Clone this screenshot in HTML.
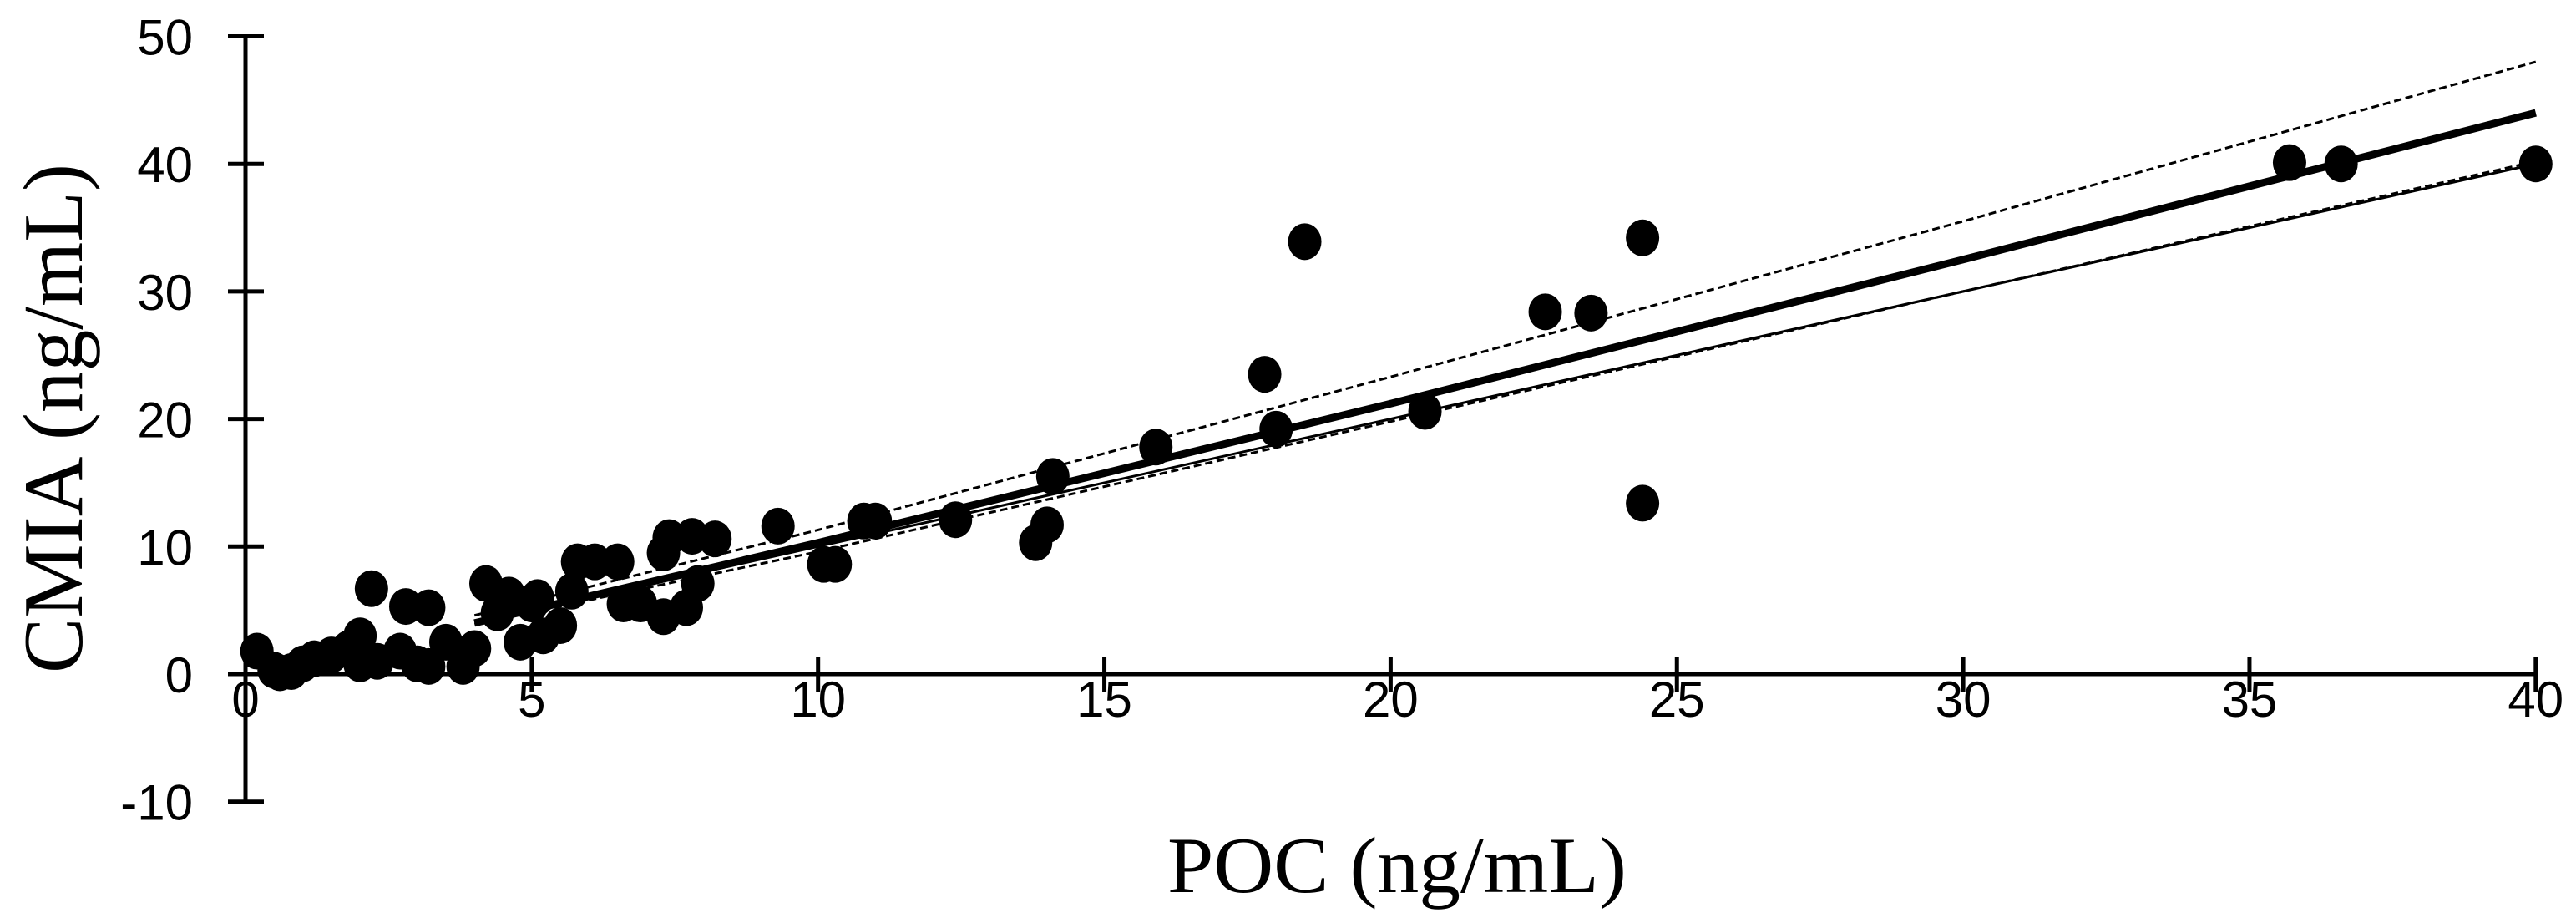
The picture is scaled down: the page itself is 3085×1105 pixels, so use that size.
<!DOCTYPE html>
<html><head><meta charset="utf-8"><style>
html,body{margin:0;padding:0;background:#fff;}
svg{display:block;}
</style></head><body>
<svg id="chart" width="3085" height="1105" xmlns="http://www.w3.org/2000/svg">
<g id="axes"></g>
<g id="lines"></g>
<g id="points"></g>
<text x="1673" y="1068" text-anchor="middle" font-family="Liberation Serif, serif" font-size="95" textLength="550" lengthAdjust="spacingAndGlyphs">POC (ng/mL)</text>
<text transform="translate(98,501) rotate(-90)" text-anchor="middle" font-family="Liberation Serif, serif" font-size="102" textLength="610" lengthAdjust="spacingAndGlyphs">CMIA (ng/mL)</text>
</svg>
<script>
const xTicks = [0,5,10,15,20,25,30,35,40];
const yTicks = [-10,0,10,20,30,40,50];
const pocValues = [0.2,0.5,0.6,0.8,1.0,1.2,1.5,1.8,2.0,2.2,2.3,2.0,2.7,2.8,3.0,3.2,3.2,3.5,3.8,4.0,4.2,4.4,4.6,4.8,5.0,5.1,5.2,5.5,5.8,5.7,6.1,6.5,6.6,6.9,7.3,7.4,7.3,7.7,7.8,7.9,8.2,9.3,10.1,10.3,10.8,11.0,12.4,13.8,14.0,14.1,15.9,17.8,18.0,18.5,20.6,22.7,23.5,24.4,24.4,35.7,36.6,40.0];
const cmiaValues = [1.8,0.3,0.1,0.2,0.8,1.2,1.5,2.0,3.0,6.7,1.0,0.8,1.8,5.3,0.8,5.2,0.6,2.5,0.6,2.0,7.1,4.8,6.2,2.5,5.5,6.0,3.0,3.8,8.8,6.5,8.8,8.8,5.5,5.5,4.5,10.7,9.5,5.2,10.8,7.1,10.6,11.6,8.6,8.6,12.0,12.0,12.1,10.3,11.7,15.5,17.8,23.5,19.2,33.9,20.6,28.4,28.3,34.2,13.4,40.1,40.0,40.0];
const lineX = [4,10,20,30,40];
const fitY = [4.0,10.3,21.2,32.5,44];
const identityY = [4,10,20,30,40];
const upperY = [4.6,11.3,23.3,35.5,48];
const lowerY = [3.9,9.6,19.8,30,40.2];

const X0=294, XU=68.57, Y0=807, YU=15.27;
const sx = v => X0 + v*XU;
const sy = v => Y0 - v*YU;
const NS="http://www.w3.org/2000/svg";
function mk(tag, attrs, parent){const e=document.createElementNS(NS,tag);for(const k in attrs)e.setAttribute(k,attrs[k]);parent.appendChild(e);return e;}
const axes=document.getElementById('axes'), lines=document.getElementById('lines'), pts=document.getElementById('points');

let e;
e=mk('line',{x1:sx(0),y1:sy(50),x2:sx(0),y2:sy(-10),stroke:'#000','stroke-width':5},axes);


e=mk('line',{x1:sx(0),y1:sy(0),x2:sx(40),y2:sy(0),stroke:'#000','stroke-width':5},axes);


yTicks.forEach(t=>{
  let l=mk('line',{x1:sx(0)-21,y1:sy(t),x2:sx(0)+22,y2:sy(t),stroke:'#000','stroke-width':5},axes);
  
  
  let tx=mk('text',{x:231,y:sy(t)+22,'text-anchor':'end','font-family':'Liberation Sans, sans-serif','font-size':60},axes);
  tx.textContent=t;
  
  
});
xTicks.forEach(t=>{
  if(t>0){
  let l=mk('line',{x1:sx(t),y1:sy(0)-21,x2:sx(t),y2:sy(0)+21,stroke:'#000','stroke-width':5},axes);
  
  
  }
  let tx=mk('text',{x:sx(t),y:858,'text-anchor':'middle','font-family':'Liberation Sans, sans-serif','font-size':60},axes);
  tx.textContent=t;
  
  
});
function poly(ys,name,w,dash){
  const p=mk('polyline',{points:lineX.map((x,i)=>sx(x)+','+sy(ys[i])).join(' '),fill:'none',stroke:'#000','stroke-width':w},lines);
  if(dash)p.setAttribute('stroke-dasharray',dash);
  
  
}
poly(upperY,'upper-confidence-line',3,'9,5');
poly(lowerY,'lower-confidence-line',3,'9,5');
poly(identityY,'identity-line',3,null);
poly(fitY,'regression-line',9,null);
pocValues.forEach((x,i)=>{
  const c=mk('ellipse',{cx:sx(x),cy:sy(cmiaValues[i]),rx:20,ry:22,fill:'#000'},pts);
  
  
});
</script>
</body></html>
